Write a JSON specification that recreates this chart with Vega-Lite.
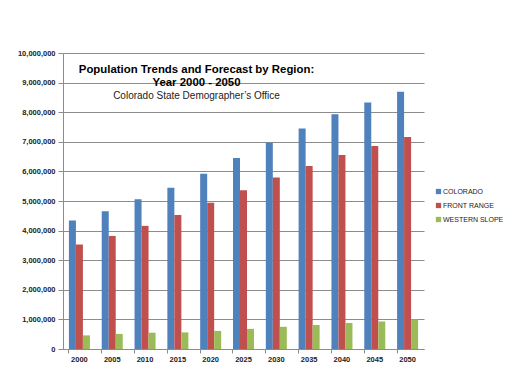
{
  "$schema": "https://vega.github.io/schema/vega-lite/v6.json",
  "width": 361,
  "height": 296,
  "autosize": "none",
  "padding": {"left": 63, "top": 53, "right": 91, "bottom": 35},
  "background": "white",
  "title": {
    "text": ["Population Trends and Forecast by Region:", "Year 2000 - 2050"],
    "subtitle": "Colorado State Demographer\u2019s Office",
    "anchor": "middle",
    "frame": "group",
    "orient": "top",
    "dx": -47,
    "offset": -52,
    "font": "Liberation Sans",
    "fontSize": 11.4,
    "fontWeight": "bold",
    "lineHeight": 13,
    "color": "#000000",
    "subtitleFont": "Liberation Sans",
    "subtitleFontSize": 10,
    "subtitleColor": "#222222",
    "subtitlePadding": 3
  },
  "data": {
    "values": [
      {"year": "2000", "region": "COLORADO", "value": 4340000},
      {"year": "2000", "region": "FRONT RANGE", "value": 3530000},
      {"year": "2000", "region": "WESTERN SLOPE", "value": 460000},
      {"year": "2005", "region": "COLORADO", "value": 4650000},
      {"year": "2005", "region": "FRONT RANGE", "value": 3820000},
      {"year": "2005", "region": "WESTERN SLOPE", "value": 510000},
      {"year": "2010", "region": "COLORADO", "value": 5060000},
      {"year": "2010", "region": "FRONT RANGE", "value": 4160000},
      {"year": "2010", "region": "WESTERN SLOPE", "value": 550000},
      {"year": "2015", "region": "COLORADO", "value": 5450000},
      {"year": "2015", "region": "FRONT RANGE", "value": 4530000},
      {"year": "2015", "region": "WESTERN SLOPE", "value": 560000},
      {"year": "2020", "region": "COLORADO", "value": 5920000},
      {"year": "2020", "region": "FRONT RANGE", "value": 4940000},
      {"year": "2020", "region": "WESTERN SLOPE", "value": 610000},
      {"year": "2025", "region": "COLORADO", "value": 6450000},
      {"year": "2025", "region": "FRONT RANGE", "value": 5360000},
      {"year": "2025", "region": "WESTERN SLOPE", "value": 680000},
      {"year": "2030", "region": "COLORADO", "value": 6980000},
      {"year": "2030", "region": "FRONT RANGE", "value": 5790000},
      {"year": "2030", "region": "WESTERN SLOPE", "value": 750000},
      {"year": "2035", "region": "COLORADO", "value": 7450000},
      {"year": "2035", "region": "FRONT RANGE", "value": 6180000},
      {"year": "2035", "region": "WESTERN SLOPE", "value": 810000},
      {"year": "2040", "region": "COLORADO", "value": 7930000},
      {"year": "2040", "region": "FRONT RANGE", "value": 6550000},
      {"year": "2040", "region": "WESTERN SLOPE", "value": 880000},
      {"year": "2045", "region": "COLORADO", "value": 8330000},
      {"year": "2045", "region": "FRONT RANGE", "value": 6860000},
      {"year": "2045", "region": "WESTERN SLOPE", "value": 930000},
      {"year": "2050", "region": "COLORADO", "value": 8690000},
      {"year": "2050", "region": "FRONT RANGE", "value": 7160000},
      {"year": "2050", "region": "WESTERN SLOPE", "value": 1000000}
    ]
  },
  "layer": [
    {
      "mark": {"type": "bar"},
      "encoding": {
        "x": {
          "field": "year",
          "type": "nominal",
          "title": null,
          "scale": {"paddingInner": 0.36, "paddingOuter": 0.18},
          "axis": {
            "orient": "bottom",
            "labelAngle": 0,
            "labelFont": "Liberation Sans",
            "labelFontSize": 7.5,
            "labelFontWeight": "bold",
            "labelColor": "#222222",
            "labelPadding": 6,
            "ticks": false,
            "domainColor": "#8c8c8c",
            "grid": false
          }
        },
        "xOffset": {"field": "region", "type": "nominal", "scale": {"paddingInner": 0, "paddingOuter": 0}},
        "y": {
          "field": "value",
          "type": "quantitative",
          "title": null,
          "scale": {"domain": [0, 10000000], "nice": false},
          "axis": {
            "orient": "left",
            "values": [0, 1000000, 2000000, 3000000, 4000000, 5000000, 6000000, 7000000, 8000000, 9000000, 10000000],
            "format": ",d",
            "labelFont": "Liberation Sans",
            "labelFontSize": 7.5,
            "labelFontWeight": "bold",
            "labelColor": "#222222",
            "labelPadding": 3,
            "tickSize": 5,
            "tickColor": "#8c8c8c",
            "domainColor": "#8c8c8c",
            "gridColor": "#8c8c8c",
            "gridOpacity": 1
          }
        },
        "color": {
          "field": "region",
          "type": "nominal",
          "title": null,
          "scale": {"domain": ["COLORADO", "FRONT RANGE", "WESTERN SLOPE"], "range": ["#4F81BD", "#C0504D", "#9BBB59"]},
          "legend": {
            "orient": "none",
            "legendX": 372,
            "legendY": 135,
            "symbolType": "square",
            "symbolSize": 28,
            "symbolStrokeWidth": 0,
            "labelFont": "Liberation Sans",
            "labelFontSize": 7,
            "labelColor": "#222222",
            "labelOffset": 1,
            "rowPadding": 6
          }
        }
      }
    },
    {
      "mark": {"type": "tick", "opacity": 0},
      "encoding": {
        "x": {
          "field": "year",
          "type": "nominal",
          "axis": {
            "orient": "bottom",
            "title": null,
            "labels": false,
            "domain": false,
            "grid": false,
            "ticks": true,
            "bandPosition": 0,
            "tickSize": 4,
            "tickColor": "#8c8c8c"
          }
        },
        "y": {"field": "value", "type": "quantitative", "axis": null}
      }
    }
  ],
  "resolve": {"axis": {"x": "independent", "y": "independent"}},
  "config": {"view": {"stroke": null}}
}
